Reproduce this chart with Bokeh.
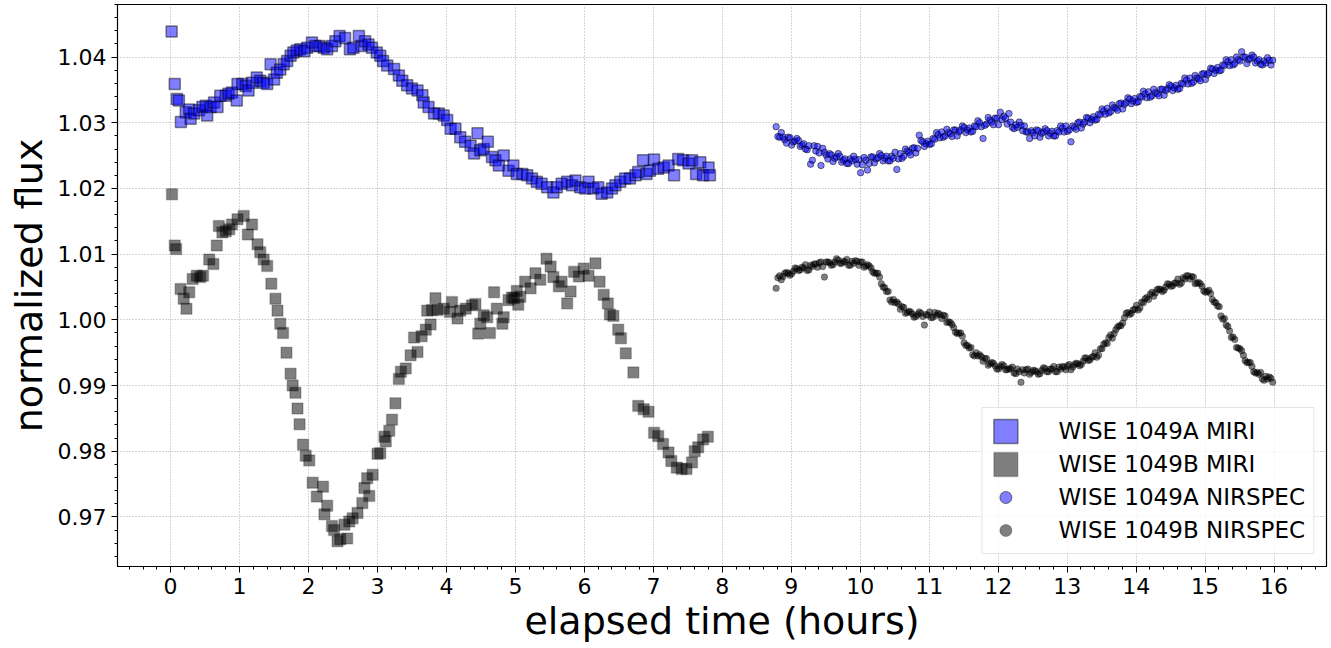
from bokeh.plotting import figure
from bokeh.models import Range1d, SingleIntervalTicker, PrintfTickFormatter, Legend, LegendItem
from bokeh.embed import file_html
from bokeh.resources import INLINE
import numpy as np

# ---------------- data ----------------
miri_a_time = [0.015, 0.06, 0.09, 0.12, 0.15, 0.22, 0.27, 0.29, 0.34, 0.41, 0.46, 0.51, 0.53, 0.58, 0.63,
               0.68, 0.72, 0.80, 0.84, 0.89, 0.96, 0.97, 1.04, 1.09, 1.13, 1.18, 1.25, 1.30, 1.35, 1.40,
               1.45, 1.50, 1.54, 1.59, 1.64, 1.69, 1.74, 1.78, 1.83, 1.88, 1.94, 1.98, 2.05, 2.10, 2.16,
               2.22, 2.27, 2.34, 2.39, 2.45, 2.53, 2.60, 2.65, 2.73, 2.77, 2.82, 2.87, 2.92, 2.99, 3.04,
               3.08, 3.14, 3.24, 3.31, 3.36, 3.43, 3.50, 3.58, 3.65, 3.67, 3.74, 3.82, 3.89, 3.96, 4.01,
               4.06, 4.13, 4.20, 4.27, 4.35, 4.40, 4.45, 4.49, 4.54, 4.60, 4.66, 4.71, 4.76, 4.83, 4.90,
               4.97, 5.02, 5.10, 5.17, 5.24, 5.31, 5.38, 5.46, 5.55, 5.60, 5.67, 5.75, 5.82, 5.87, 5.94,
               6.01, 6.06, 6.13, 6.20, 6.25, 6.33, 6.40, 6.45, 6.52, 6.59, 6.66, 6.74, 6.78, 6.85, 6.90,
               6.95, 7.01, 7.07, 7.15, 7.22, 7.30, 7.36, 7.43, 7.51, 7.56, 7.62, 7.68, 7.72, 7.80, 7.82]
miri_a_flux = [1.0439, 1.0359, 1.0336, 1.0334, 1.0301, 1.0316, 1.0320, 1.0306, 1.0314, 1.0319, 1.0324,
               1.0326, 1.0311, 1.0324, 1.0331, 1.0324, 1.0341, 1.0341, 1.0344, 1.0346, 1.0334, 1.0359,
               1.0359, 1.0356, 1.0349, 1.0361, 1.0369, 1.0364, 1.0361, 1.0359, 1.0389, 1.0366, 1.0376,
               1.0381, 1.0389, 1.0394, 1.0402, 1.0407, 1.0410, 1.0412, 1.0409, 1.0414, 1.0422, 1.0417,
               1.0417, 1.0414, 1.0412, 1.0417, 1.0424, 1.0432, 1.0429, 1.0412, 1.0414, 1.0432, 1.0417,
               1.0424, 1.0419, 1.0414, 1.0407, 1.0402, 1.0394, 1.0387, 1.0382, 1.0372, 1.0364, 1.0357,
               1.0352, 1.0349, 1.0342, 1.0331, 1.0324, 1.0314, 1.0314, 1.0311, 1.0304, 1.0291, 1.0291,
               1.0278, 1.0271, 1.0265, 1.0253, 1.0284, 1.0258, 1.0260, 1.0271, 1.0248, 1.0243, 1.0235,
               1.0250, 1.0227, 1.0235, 1.0222, 1.0222, 1.0220, 1.0215, 1.0210, 1.0207, 1.0202, 1.0194,
               1.0202, 1.0207, 1.0210, 1.0205, 1.0212, 1.0202, 1.0200, 1.0210, 1.0200, 1.0202, 1.0192,
               1.0194, 1.0200, 1.0205, 1.0210, 1.0215, 1.0215, 1.0220, 1.0225, 1.0243, 1.0222, 1.0227,
               1.0244, 1.0230, 1.0232, 1.0235, 1.0220, 1.0245, 1.0243, 1.0238, 1.0243, 1.0222, 1.0240,
               1.0220, 1.0232, 1.0220]

miri_b_time = [0.02, 0.06, 0.08, 0.145, 0.19, 0.23, 0.27, 0.32, 0.38, 0.43, 0.47, 0.56, 0.62, 0.67, 0.70,
               0.75, 0.80, 0.85, 0.89, 0.97, 1.06, 1.12, 1.18, 1.26, 1.30, 1.35, 1.40, 1.46, 1.52, 1.55,
               1.59, 1.63, 1.68, 1.74, 1.77, 1.81, 1.84, 1.87, 1.92, 1.96, 2.01, 2.06, 2.12, 2.21, 2.23,
               2.27, 2.34, 2.37, 2.42, 2.46, 2.52, 2.56, 2.59, 2.64, 2.71, 2.78, 2.81, 2.85, 2.88, 2.93,
               3.00, 3.04, 3.10, 3.12, 3.17, 3.21, 3.26, 3.31, 3.34, 3.41, 3.48, 3.53, 3.58, 3.64, 3.70,
               3.72, 3.77, 3.79, 3.84, 3.87, 3.96, 4.05, 4.08, 4.16, 4.20, 4.28, 4.37, 4.42, 4.46, 4.49,
               4.54, 4.59, 4.63, 4.69, 4.73, 4.81, 4.83, 4.90, 4.95, 4.98, 5.02, 5.04, 5.07, 5.14, 5.22,
               5.29, 5.36, 5.45, 5.51, 5.55, 5.63, 5.67, 5.75, 5.80, 5.85, 5.92, 5.99, 6.06, 6.16, 6.22,
               6.28, 6.34, 6.37, 6.42, 6.49, 6.53, 6.60, 6.71, 6.78, 6.86, 6.93, 7.01, 7.07, 7.14, 7.22,
               7.26, 7.34, 7.41, 7.48, 7.56, 7.60, 7.65, 7.72, 7.79]
miri_b_flux = [1.0191, 1.0113, 1.0108, 1.0047, 1.0032, 1.0017, 1.0042, 1.0062, 1.0067, 1.0065, 1.0067,
               1.0092, 1.0085, 1.0113, 1.0143, 1.0133, 1.0135, 1.0138, 1.0145, 1.0153, 1.0158, 1.0130,
               1.0145, 1.0115, 1.0103, 1.0092, 1.0082, 1.0055, 1.0032, 1.0014, 0.9994, 0.9980, 0.9950,
               0.9918, 0.9900, 0.9889, 0.9865, 0.9841, 0.9810, 0.9793, 0.9786, 0.9752, 0.9731, 0.9746,
               0.9704, 0.9717, 0.9686, 0.9680, 0.9663, 0.9666, 0.9688, 0.9667, 0.9693, 0.9698, 0.9706,
               0.9721, 0.9744, 0.9759, 0.9732, 0.9764, 0.9796, 0.9797, 0.9822, 0.9815, 0.9831, 0.9848,
               0.9873, 0.9910, 0.9921, 0.9926, 0.9946, 0.9973, 0.9951, 0.9975, 0.9985, 1.0014, 0.9993,
               1.0015, 1.0033, 1.0015, 1.0017, 1.0012, 1.0027, 1.0002, 1.0014, 1.0017, 1.0022, 1.0024,
               0.9979, 0.9994, 1.0007, 1.0004, 0.9980, 1.0042, 1.0017, 0.9994, 1.0004, 1.0030, 1.0034,
               1.0033, 1.0044, 1.0023, 1.0035, 1.0058, 1.0048, 1.0071, 1.0061, 1.0093, 1.0081, 1.0065,
               1.0051, 1.0058, 1.0025, 1.0043, 1.0073, 1.0066, 1.0078, 1.0067, 1.0086, 1.0058, 1.0038,
               1.0025, 1.0008, 1.0006, 0.9985, 0.9972, 0.9949, 0.9920, 0.9869, 0.9864, 0.9860, 0.9828,
               0.9823, 0.9811, 0.9798, 0.9785, 0.9775, 0.9773, 0.9773, 0.9783, 0.9800, 0.9806, 0.9818,
               0.9822]

# NIRSPEC times in thousandths of an hour (two interleaved sets of samples)
nirspec_time_1 = [
    8780, 8830, 8880, 8930, 8980, 9030, 9080, 9130, 9180, 9230, 9280, 9330, 9380, 9430, 9480, 9530,
    9580, 9630, 9680, 9730, 9780, 9830, 9880, 9930, 9980, 10030, 10080, 10130, 10180, 10230, 10280,
    10330, 10380, 10430, 10480, 10530, 10580, 10630, 10680, 10730, 10780, 10830, 10880, 10930, 10980,
    11030, 11080, 11130, 11180, 11230, 11280, 11330, 11380, 11430, 11480, 11530, 11580, 11630, 11680,
    11730, 11780, 11830, 11880, 11930, 11980, 12030, 12080, 12130, 12180, 12230, 12280, 12330, 12380,
    12430, 12480, 12530, 12580, 12630, 12680, 12730, 12780, 12830, 12880, 12930, 12980, 13030, 13080,
    13130, 13180, 13230, 13280, 13330, 13380, 13430, 13480, 13530, 13580, 13630, 13680, 13730, 13780,
    13830, 13880, 13930, 13980, 14030, 14080, 14130, 14180, 14230, 14280, 14330, 14380, 14430, 14480,
    14530, 14580, 14630, 14680, 14730, 14780, 14830, 14880, 14930, 14980, 15030, 15080, 15130, 15180,
    15230, 15280, 15330, 15380, 15430, 15480, 15530, 15580, 15630, 15680, 15730, 15780, 15830, 15880,
    15930, 15980]
nirspec_time_2 = [
    8805, 8855, 8905, 8955, 9005, 9055, 9105, 9155, 9205, 9255, 9305, 9355, 9405, 9455, 9505, 9555,
    9605, 9655, 9705, 9755, 9805, 9855, 9905, 9955, 10005, 10055, 10105, 10155, 10205, 10255, 10305,
    10355, 10405, 10455, 10505, 10555, 10605, 10655, 10705, 10755, 10805, 10855, 10905, 10955, 11005,
    11055, 11105, 11155, 11205, 11255, 11305, 11355, 11405, 11455, 11505, 11555, 11605, 11655, 11705,
    11755, 11805, 11855, 11905, 11955, 12005, 12055, 12105, 12155, 12205, 12255, 12305, 12355, 12405,
    12455, 12505, 12555, 12605, 12655, 12705, 12755, 12805, 12855, 12905, 12955, 13005, 13055, 13105,
    13155, 13205, 13255, 13305, 13355, 13405, 13455, 13505, 13555, 13605, 13655, 13705, 13755, 13805,
    13855, 13905, 13955, 14005, 14055, 14105, 14155, 14205, 14255, 14305, 14355, 14405, 14455, 14505,
    14555, 14605, 14655, 14705, 14755, 14805, 14855, 14905, 14955, 15005, 15055, 15105, 15155, 15205,
    15255, 15305, 15355, 15405, 15455, 15505, 15555, 15605, 15655, 15705, 15755, 15805, 15855, 15905,
    15955]
# NIRSPEC flux offsets from 1, in units of 1e-4
nirspec_a_offset_1 = [
    294, 278, 278, 269, 277, 271, 276, 264, 268, 259, 237, 265, 264, 235, 255, 245, 251, 246, 253, 240,
    245, 238, 242, 244, 244, 236, 243, 238, 248, 245, 253, 242, 249, 242, 246, 229, 253, 249, 257, 251,
    262, 261, 273, 264, 272, 268, 275, 282, 286, 280, 285, 279, 289, 286, 295, 285, 292, 287, 294, 300,
    276, 298, 304, 297, 307, 316, 310, 298, 301, 291, 293, 296, 295, 286, 288, 280, 288, 284, 291, 280,
    287, 280, 286, 292, 295, 289, 295, 290, 301, 298, 308, 300, 309, 305, 312, 318, 322, 317, 323, 319,
    330, 328, 338, 329, 337, 332, 339, 344, 347, 341, 346, 341, 351, 349, 358, 349, 357, 352, 359, 365,
    368, 362, 368, 364, 375, 373, 383, 375, 384, 380, 387, 393, 396, 390, 396, 408, 400, 396, 403, 391,
    396, 388, 391, 395, 395]
nirspec_a_offset_2 = [
    279, 285, 274, 278, 266, 272, 273, 266, 260, 265, 243, 257, 254, 261, 251, 253, 241, 248, 249, 243,
    238, 245, 249, 237, 224, 247, 228, 248, 239, 247, 250, 246, 242, 249, 255, 245, 246, 260, 255, 261,
    254, 281, 271, 268, 267, 276, 285, 277, 278, 290, 283, 289, 280, 289, 293, 289, 286, 295, 303, 294,
    296, 308, 301, 307, 297, 305, 307, 314, 293, 297, 301, 288, 286, 276, 285, 289, 278, 286, 288, 284,
    280, 288, 295, 286, 287, 271, 293, 300, 292, 301, 307, 305, 304, 313, 321, 313, 315, 327, 322, 329,
    321, 331, 336, 333, 331, 340, 348, 338, 339, 351, 344, 351, 342, 352, 356, 353, 351, 360, 368, 359,
    360, 372, 367, 374, 366, 376, 382, 380, 379, 388, 396, 387, 388, 400, 394, 400, 390, 398, 400, 394,
    389, 394, 399, 388]
nirspec_b_offset_1 = [
    48, 67, 66, 72, 68, 74, 78, 76, 79, 75, 83, 85, 80, 88, 65, 88, 83, 88, 91, 86,
    88, 83, 89, 90, 83, 88, 82, 82, 73, 71, 65, 50, 43, 30, 31, 27, 16, 19, 11, 12,
    4, 8, 10, -8, 7, 3, 11, 10, 2, 6, -3, -7, -19, -20, -25, -39, -43, -53, -50, -53,
    -63, -59, -67, -66, -75, -71, -70, -76, -75, -81, -75, -95, -81, -75, -80, -77, -83, -77, -74, -79,
    -75, -79, -72, -71, -76, -68, -72, -66, -70, -63, -58, -61, -56, -57, -44, -37, -36, -23, -21, -11,
    -9, 3, 11, 10, 16, 15, 27, 32, 31, 42, 41, 47, 43, 50, 54, 52, 56, 54, 64, 67,
    62, 65, 56, 55, 44, 43, 40, 27, 21, 6, 2, -10, -27, -30, -43, -47, -62, -65, -71, -81,
    -83, -90, -86, -87, -95]
nirspec_b_offset_2 = [
    64, 61, 71, 71, 70, 79, 75, 80, 84, 76, 81, 85, 87, 81, 88, 87, 84, 93, 86, 89,
    92, 83, 86, 89, 88, 80, 84, 79, 71, 71, 55, 49, 43, 27, 26, 24, 20, 10, 13, 9,
    5, 12, 5, 8, 12, 4, 7, 8, 7, -4, -4, -12, -21, -20, -35, -39, -42, -55, -55, -56,
    -59, -69, -65, -70, -75, -68, -76, -74, -72, -82, -79, -76, -76, -83, -77, -79, -82, -73, -79, -75,
    -71, -79, -75, -72, -70, -76, -68, -67, -68, -58, -62, -57, -50, -54, -44, -35, -27, -28, -15, -9,
    -5, 10, 8, 15, 22, 18, 26, 34, 39, 36, 46, 46, 45, 55, 51, 56, 62, 56, 62, 67,
    66, 55, 57, 51, 42, 45, 31, 26, 20, 1, -8, -17, -26, -42, -44, -54, -65, -65, -79, -80,
    -80, -92, -90, -89]

x_ticks_interval = 1
y_ticks_interval = 0.01

# ---------------- figure ----------------
FONT = "DejaVu Sans"
p = figure(width=1331, height=648, output_backend="svg", toolbar_location=None,
           x_range=Range1d(-0.77, 16.76), y_range=Range1d(0.96245, 1.0480),
           min_border_left=117, min_border_right=5, min_border_top=4, min_border_bottom=82,
           background_fill_color="white", border_fill_color="white")
p.outline_line_color = "black"
p.outline_line_width = 1.2
p.outline_line_alpha = 1.0

xt = SingleIntervalTicker(interval=x_ticks_interval, num_minor_ticks=5)
yt = SingleIntervalTicker(interval=y_ticks_interval, num_minor_ticks=5)
p.xaxis.ticker = xt
p.yaxis.ticker = yt
p.xgrid.ticker = xt
p.ygrid.ticker = yt
p.yaxis.formatter = PrintfTickFormatter(format="%.2f")

p.grid.grid_line_color = "#aaaaaa"
p.grid.grid_line_dash = "1 2"
p.grid.grid_line_width = 1

for ax in (p.xaxis, p.yaxis):
    ax.axis_line_color = "black"
    ax.axis_line_width = 1
    ax.major_tick_line_color = "black"
    ax.minor_tick_line_color = "black"
    ax.major_tick_out = 6
    ax.major_tick_in = 0
    ax.minor_tick_out = 3
    ax.minor_tick_in = 0
    ax.major_label_text_font = FONT
    ax.major_label_text_font_size = "22px"
    ax.major_label_text_color = "black"
    ax.axis_label_text_font = FONT
    ax.axis_label_text_font_size = "38px"
    ax.axis_label_text_font_style = "normal"
    ax.axis_label_text_color = "black"

p.xaxis.axis_label = "elapsed time (hours)"
p.yaxis.axis_label = "normalized flux"
p.xaxis.axis_label_standoff = 2
p.yaxis.axis_label_standoff = 4

# ---------------- glyphs ----------------
ra = p.rect(x=miri_a_time, y=miri_a_flux, width=11, height=11,
            width_units="screen", height_units="screen",
            fill_color="blue", fill_alpha=0.5, line_color="black", line_alpha=0.45, line_width=1.5)
rb = p.rect(x=miri_b_time, y=miri_b_flux, width=11, height=11,
            width_units="screen", height_units="screen",
            fill_color="black", fill_alpha=0.5, line_color="black", line_alpha=0.2, line_width=1.5)

nir_t = np.concatenate([nirspec_time_1, nirspec_time_2]) / 1000.0
nir_a = 1.0 + np.concatenate([nirspec_a_offset_1, nirspec_a_offset_2]) * 1e-4
nir_b = 1.0 + np.concatenate([nirspec_b_offset_1, nirspec_b_offset_2]) * 1e-4
order = np.argsort(nir_t, kind="stable")
nir_t, nir_a, nir_b = nir_t[order], nir_a[order], nir_b[order]

rna = p.scatter(nir_t, nir_a, marker="circle", size=6.5,
                fill_color="blue", fill_alpha=0.5, line_color="black", line_alpha=0.5, line_width=1)
rnb = p.scatter(nir_t, nir_b, marker="circle", size=6.5,
                fill_color="black", fill_alpha=0.5, line_color="black", line_alpha=0.3, line_width=1)

legend = Legend(items=[
    LegendItem(label="WISE 1049A MIRI", renderers=[ra]),
    LegendItem(label="WISE 1049B MIRI", renderers=[rb]),
    LegendItem(label="WISE 1049A NIRSPEC", renderers=[rna]),
    LegendItem(label="WISE 1049B NIRSPEC", renderers=[rnb]),
], location="bottom_right", glyph_width=30, glyph_height=30, label_standoff=38,
    padding=8, spacing=3, margin=12,
    label_text_font=FONT, label_text_font_size="23px", label_text_color="black",
    border_line_color="#cccccc", border_line_width=1.2,
    background_fill_color="white", background_fill_alpha=0.8)
p.add_layout(legend)

open("out.html", "w").write(file_html(p, INLINE))
